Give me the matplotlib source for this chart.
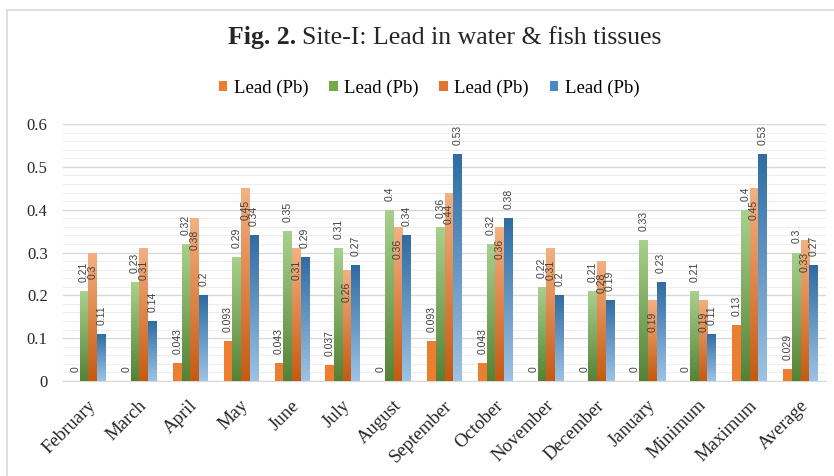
import numpy as np
import matplotlib
matplotlib.use("Agg")
import matplotlib.pyplot as plt
import matplotlib.transforms as mtrans
from matplotlib.patches import Patch, Rectangle
from matplotlib.colors import LinearSegmentedColormap

categories = ["February", "March", "April", "May", "June", "July", "August", "September",
              "October", "November", "December", "January", "Minimum", "Maximum", "Average"]
water = [0, 0, 0.043, 0.093, 0.043, 0.037, 0, 0.093, 0.043, 0, 0, 0, 0, 0.13, 0.029]
tissue2 = [0.21, 0.23, 0.32, 0.29, 0.35, 0.31, 0.4, 0.36, 0.32, 0.22, 0.21, 0.33, 0.21, 0.4, 0.3]
tissue3 = [0.3, 0.31, 0.38, 0.45, 0.31, 0.26, 0.36, 0.44, 0.36, 0.31, 0.28, 0.19, 0.19, 0.45, 0.33]
tissue4 = [0.11, 0.14, 0.2, 0.34, 0.29, 0.27, 0.34, 0.53, 0.38, 0.2, 0.19, 0.23, 0.11, 0.53, 0.27]
series_names = ["Lead (Pb)", "Lead (Pb)", "Lead (Pb)", "Lead (Pb)"]
yticks = [0, 0.1, 0.2, 0.3, 0.4, 0.5, 0.6]
ytick_labels = ["0", "0.1", "0.2", "0.3", "0.4", "0.5", "0.6"]

serif = "Liberation Serif"
fig = plt.figure(figsize=(8.34, 4.76), dpi=100)
fig.patch.set_facecolor("white")
# outer chart frame
fig.add_artist(Rectangle((7 / 834, -0.01), 1.0, 1 - 10 / 476 + 0.01, transform=fig.transFigure,
                         fill=False, edgecolor="#d9d9d9", linewidth=1.2))

ax = fig.add_axes([63 / 834, 1 - 381 / 476, (826 - 63) / 834, (381 - 124) / 476])
ax.set_facecolor("white")
n = len(categories)
x = np.arange(n)
w = 0.17
offs = np.array([-1.5, -0.5, 0.5, 1.5]) * w

# (top, bottom) gradient colours
grads = [None,
         ("#a9d18e", "#548235"),
         ("#f4b183", "#c55a11"),
         ("#2e6ca3", "#9dc3e6")]
flat = ["#ed7d31", "#70ad47", "#ed7d31", "#5b9bd5"]
data = [water, tissue2, tissue3, tissue4]

ax.set_xlim(-0.5, n - 0.5)
ax.set_ylim(0, 0.6)
for si, (vals, off) in enumerate(zip(data, offs)):
    bars = ax.bar(x + off, vals, width=w, color=flat[si], edgecolor="none", zorder=3)
    if grads[si] is not None:
        cmap = LinearSegmentedColormap.from_list("g%d" % si, [grads[si][1], grads[si][0]])
        grad = np.linspace(1, 0, 256).reshape(-1, 1)
        for b in bars:
            bx, bw, bh = b.get_x(), b.get_width(), b.get_height()
            if bh <= 0:
                continue
            b.set_facecolor("none")
            im = ax.imshow(grad, cmap=cmap, extent=[bx, bx + bw, 0, bh], aspect="auto",
                           zorder=3, vmin=0, vmax=1, interpolation="bicubic")
            im.set_clip_path(b)
    for xi, v in zip(x + off, vals):
        lab = ("%g" % v)
        if si == 2:
            ax.annotate(lab, (xi, v), xytext=(0, -8.5), textcoords="offset points",
                        rotation=90, ha="center", va="top", fontsize=7.5,
                        family="Liberation Sans", color="#404040", zorder=5)
        else:
            ax.annotate(lab, (xi, v), xytext=(0, 6.5), textcoords="offset points",
                        rotation=90, ha="center", va="bottom", fontsize=7.5,
                        family="Liberation Sans", color="#404040", zorder=5)

ax.set_xlim(-0.5, n - 0.5)
ax.set_ylim(0, 0.6)
ax.set_yticks(yticks)
ax.set_yticklabels(ytick_labels, family=serif, fontsize=12, color="#262626")
ax.set_yticks(np.arange(0, 0.601, 0.02), minor=True)
ax.yaxis.grid(True, which="major", color="#d9d9d9", linewidth=1.0, zorder=0)
ax.yaxis.grid(True, which="minor", color="#eeeeee", linewidth=0.8, zorder=0)
ax.tick_params(axis="y", which="both", length=0, pad=11)
ax.set_xticks(x)
ax.set_xticklabels([])
ax.tick_params(axis="x", length=0, pad=0)
off_tr = mtrans.offset_copy(ax.get_xaxis_transform(), fig=fig, x=5, y=-22, units="dots")
for xi, cat in zip(x, categories):
    ax.text(xi, 0, cat, transform=off_tr, family=serif, fontsize=13.5,
            color="#262626", rotation=45, ha="right", va="center", rotation_mode="anchor",
            clip_on=False)
for s in ["left", "right", "top"]:
    ax.spines[s].set_visible(False)
ax.spines["bottom"].set_color("#d9d9d9")
ax.set_axisbelow(True)

# title
fig.text(296 / 834, 1 - 38 / 476, "Fig. 2.", ha="right", va="center", family=serif,
         fontsize=18.5, fontweight="bold", color="#262626")
fig.text(302 / 834, 1 - 38 / 476, "Site-I: Lead in water & fish tissues", ha="left", va="center",
         family=serif, fontsize=18.5, color="#262626")

handles = [Patch(facecolor=flat[0]), Patch(facecolor="#70ad47"),
           Patch(facecolor="#e2742b"), Patch(facecolor="#4a89c8")]
fig.legend(handles, series_names, loc="center", bbox_to_anchor=(429 / 834, 1 - 88 / 476),
           ncol=4, frameon=False, prop={"family": serif, "size": 13.5},
           handlelength=0.45, handleheight=0.45, handletextpad=0.35, columnspacing=1.1)

fig.savefig("out.png", dpi=100)
